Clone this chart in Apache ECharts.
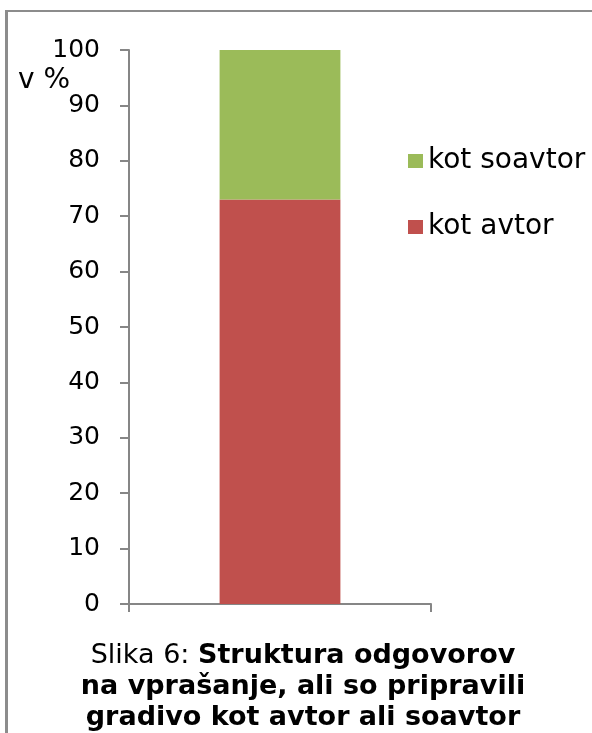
<!DOCTYPE html>
<html>
<head>
<meta charset="utf-8">
<script src="https://cdn.jsdelivr.net/npm/echarts@6/dist/echarts.min.js"></script>
<style>
  html, body { margin: 0; padding: 0; background: #fff; }
  #chart { width: 592px; height: 733px; }
</style>
</head>
<body>
<div id="chart"></div>
<script>
// data
var categories = [''];
var avtor = [73];
var soavtor = [27];
var seriesNames = ['kot avtor', 'kot soavtor'];

var font = 'DejaVu Sans, Verdana, sans-serif';
var axisColor = '#868686';

var chart = echarts.init(document.getElementById('chart'));

var option = {
  animation: false,
  grid: { left: 129, right: 161, top: 50, bottom: 129 },
  legend: {
    data: [seriesNames[1], seriesNames[0]],
    orient: 'vertical',
    left: 403,
    top: 142,
    itemWidth: 15,
    itemHeight: 14,
    itemGap: 38,
    icon: 'rect',
    textStyle: { fontFamily: font, fontSize: 28, color: '#000' }
  },
  xAxis: {
    type: 'category',
    data: categories,
    axisLine: { lineStyle: { color: axisColor, width: 2 } },
    axisTick: { show: true, length: 8, lineStyle: { color: axisColor, width: 2 } },
    axisLabel: { show: false }
  },
  yAxis: {
    type: 'value',
    min: 0,
    max: 100,
    interval: 10,
    splitLine: { show: false },
    axisLine: { show: true, lineStyle: { color: axisColor, width: 2 } },
    axisTick: { show: true, length: 9, lineStyle: { color: axisColor, width: 2 } },
    axisLabel: { fontFamily: font, fontSize: 25, color: '#000', margin: 29 }
  },
  series: [{
    name: seriesNames[0],
    type: 'bar',
    stack: 'a',
    barWidth: '40%',
    data: avtor,
    itemStyle: { color: '#c0504d' }
  }, {
    name: seriesNames[1],
    type: 'bar',
    stack: 'a',
    data: soavtor,
    itemStyle: { color: '#9bbb59' }
  }],
  graphic: [
    { type: 'rect', shape: { x: 5, y: 10, width: 3, height: 723 }, style: { fill: '#8c8c8c' } },
    { type: 'rect', shape: { x: 5, y: 10, width: 587, height: 2 }, style: { fill: '#8c8c8c' } },
    {
      type: 'text', x: 18, y: 81,
      style: { text: 'v %', font: '28px ' + font, fill: '#000', verticalAlign: 'middle' }
    },
    {
      type: 'text', x: 303, y: 640,
      style: {
        text: '{n|Slika 6: }{b|Struktura odgovorov}\n{b|na vprašanje, ali so pripravili}\n{b|gradivo kot avtor ali soavtor}',
        align: 'center',
        lineHeight: 31,
        rich: {
          n: { fontFamily: font, fontSize: 27, color: '#000', lineHeight: 31 },
          b: { fontFamily: font, fontSize: 27, fontWeight: 'bold', color: '#000', lineHeight: 31 }
        }
      }
    }
  ]
};

chart.setOption(option);
</script>
</body>
</html>
